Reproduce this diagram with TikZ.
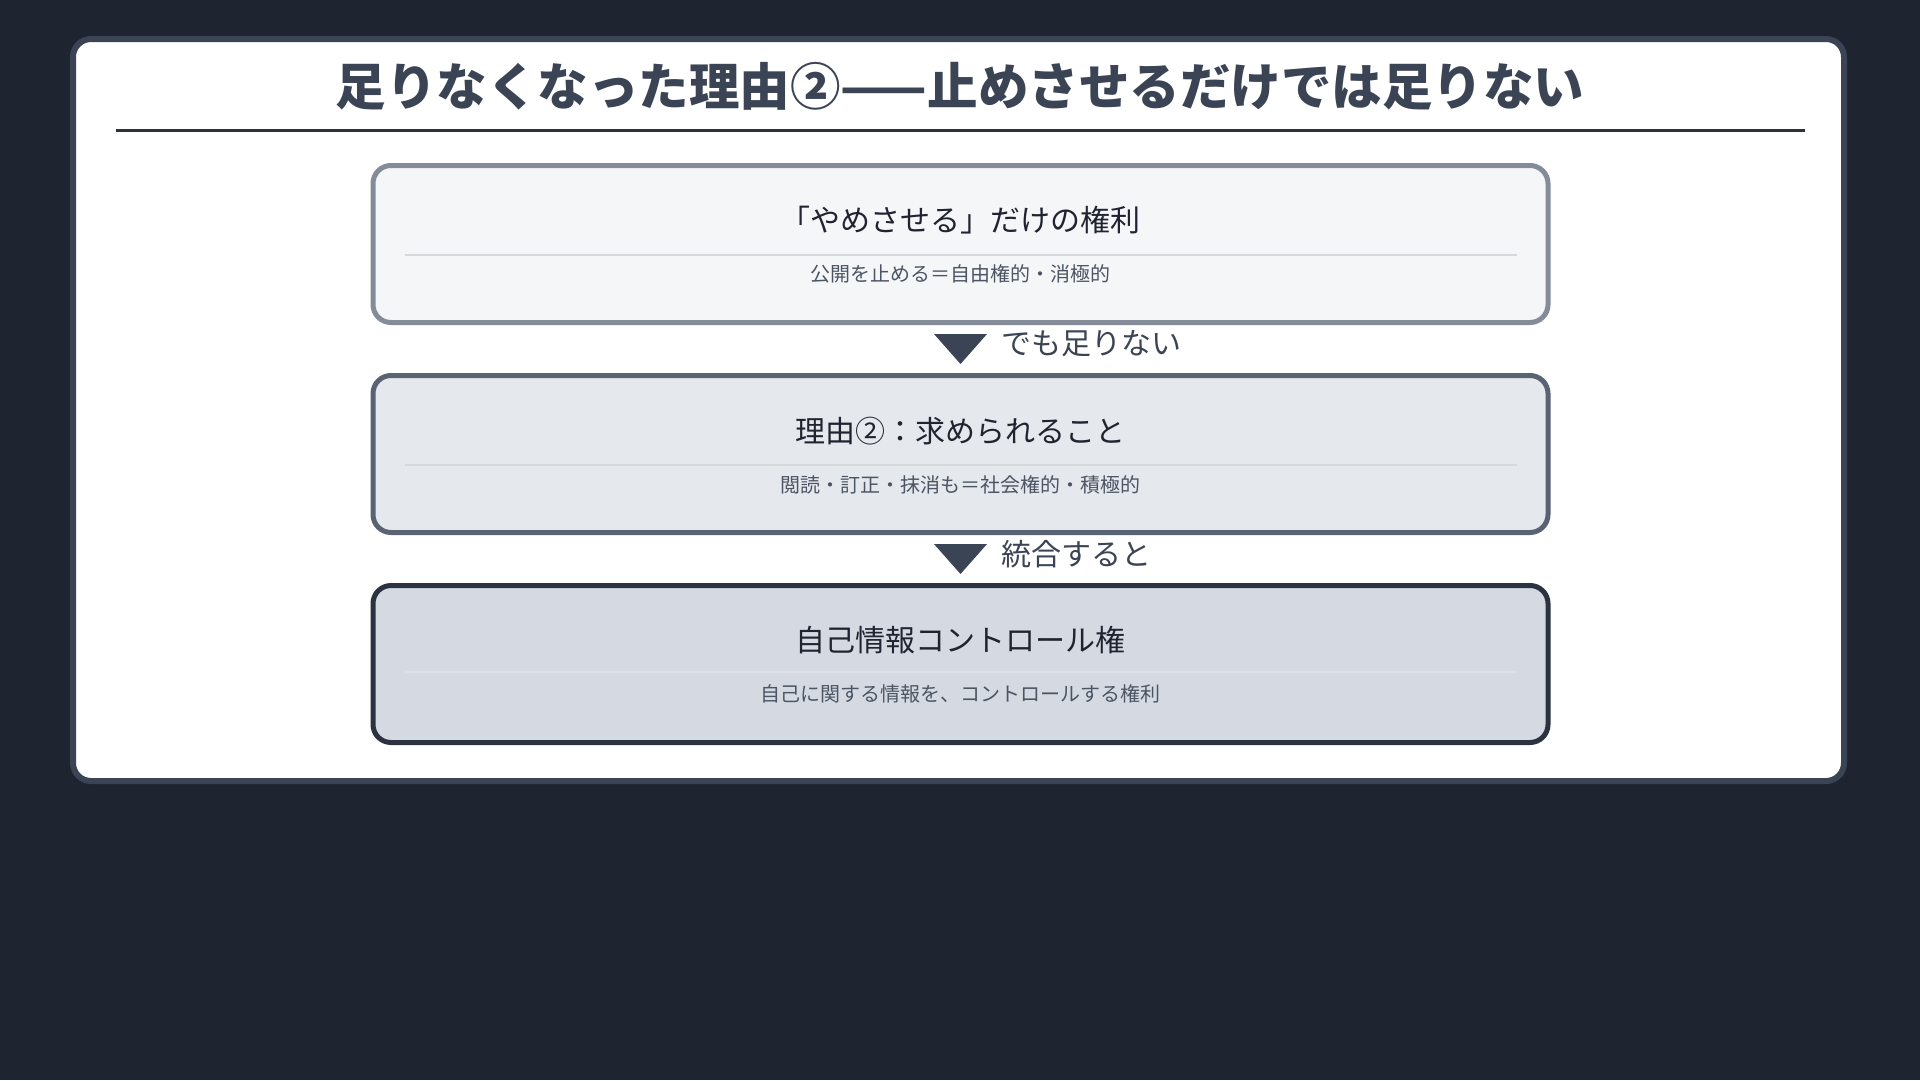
\documentclass[tikz,border=0pt]{standalone}
\usepackage{fontspec}
\setmainfont{Noto Sans CJK JP}
\usetikzlibrary{positioning}
\usetikzlibrary{calc}

\definecolor{pagebg}{HTML}{1E2430}
\definecolor{cardline}{HTML}{3B4455}
\definecolor{ink}{HTML}{1F2430}
\definecolor{subink}{HTML}{4B5563}
\definecolor{rulecol}{HTML}{2B313D}
\definecolor{sepcol}{HTML}{D6D8DC}
\definecolor{lineA}{HTML}{848C9A}
\definecolor{fillA}{HTML}{F5F6F8}
\definecolor{lineB}{HTML}{5A6374}
\definecolor{fillB}{HTML}{E5E8EC}
\definecolor{lineC}{HTML}{2B3240}
\definecolor{fillC}{HTML}{D5DAE2}

\begin{document}
\begin{tikzpicture}[x=1pt,y=-1pt]
\tikzstyle{stage} =[rectangle,rounded corners=18,line width=5,minimum width=1175,minimum height=157,inner sep=0]
\tikzstyle{head} =[text=ink,font=\fontsize{30}{36}\selectfont,inner sep=0]
\tikzstyle{sub} =[text=subink,font=\fontsize{20}{24}\selectfont,inner sep=0]
\tikzstyle{sep} =[line width=2,draw=sepcol]
\tikzstyle{step label} =[text=cardline,font=\fontsize{30}{36}\selectfont,inner sep=0,anchor=west]
\fill[pagebg] (0,0) rectangle (1920,1080);
\useasboundingbox (0,0) rectangle (1920,1080);
\draw[line width=6,draw=cardline,fill=white,rounded corners=18] (73,39) rectangle (1844,781);

\node[text=cardline,font=\bfseries\fontsize{50.5}{60}\selectfont,inner sep=0](title) at (960,86){足りなくなった理由②——止めさせるだけでは足りない};
\draw[line width=3,draw=rulecol] (116,130)--(1805,130);

\node[stage,draw=lineA,fill=fillA](stop) at (960.5,244){};
\node[head](stopT) at ($(stop)+(0,-24)$){「やめさせる」だけの権利};
\draw[sep] ($(stop)+(-556,11)$)--($(stop)+(556,11)$);
\node[sub](stopS) at ($(stop)+(0,30)$){公開を止める＝自由権的・消極的};

\node[stage,draw=lineB,fill=fillB](need) at (960.5,454){};
\node[head](needT) at ($(need)+(0,-23)$){理由②：求められること};
\draw[sep] ($(need)+(-556,11)$)--($(need)+(556,11)$);
\node[sub](needS) at ($(need)+(0,31)$){閲読・訂正・抹消も＝社会権的・積極的};

\node[stage,draw=lineC,fill=fillC](ctrl) at (960.5,664){};
\node[head](ctrlT) at ($(ctrl)+(0,-24)$){自己情報コントロール権};
\draw[sep,draw=fillC!85!white] ($(ctrl)+(-556,8)$)--($(ctrl)+(556,8)$);
\node[sub](ctrlS) at ($(ctrl)+(0,30)$){自己に関する情報を、コントロールする権利};

\coordinate (m1) at ($(stop.south)!0.5!(need.north)$);
\fill[cardline] ($(m1)+(-26.5,-15)$)--($(m1)+(26.5,-15)$)--($(m1)+(0,15)$)--cycle;
\node[step label](m1L) at ($(m1)+(41,-5)$){でも足りない};

\coordinate (m2) at ($(need.south)!0.5!(ctrl.north)$);
\fill[cardline] ($(m2)+(-26.5,-15)$)--($(m2)+(26.5,-15)$)--($(m2)+(0,15)$)--cycle;
\node[step label](m2L) at ($(m2)+(41,-5)$){統合すると};
\end{tikzpicture}
\end{document}
